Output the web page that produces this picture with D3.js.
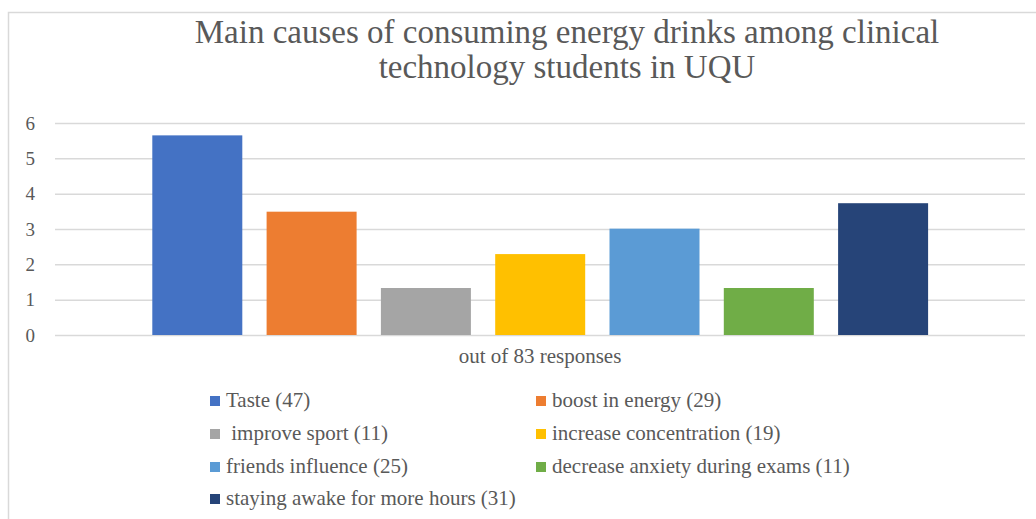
<!DOCTYPE html>
<html>
<head>
<meta charset="utf-8">
<script src="https://cdn.jsdelivr.net/npm/d3@7/dist/d3.min.js"></script>
<style>
  html, body { margin: 0; padding: 0; background: #fff; }
  svg { display: block; }
  text { font-family: "Liberation Serif", "Times New Roman", serif; fill: #595959; }
</style>
</head>
<body>
<svg id="chart" width="1036" height="519"></svg>
<script>
const categories = [
  "Taste (47)",
  "boost in energy (29)",
  " improve sport (11)",
  "increase concentration (19)",
  "friends influence (25)",
  "decrease anxiety during exams (11)",
  "staying awake for more hours (31)"
];
const values = [5.65, 3.49, 1.33, 2.29, 3.01, 1.33, 3.73];
const colors = ["#4472C4", "#ED7D31", "#A5A5A5", "#FFC000", "#5B9BD5", "#70AD47", "#264478"];
const yTicks = [0, 1, 2, 3, 4, 5, 6];
const titleLines = ["Main causes of consuming energy drinks among clinical", "technology students in UQU"];
const axisTitle = "out of 83 responses";

const svg = d3.select("#chart");

// chart frame
svg.append("rect").attr("x", 8.5).attr("y", 12.5).attr("width", 1100).attr("height", 600)
  .attr("fill", "#fff").attr("stroke", "#d9d9d9").attr("stroke-width", 1.5);

// title
svg.append("g").selectAll("text").data(titleLines).join("text")
  .attr("x", 567).attr("y", (d, i) => 43 + i * 35)
  .attr("text-anchor", "middle").attr("font-size", 33).text(d => d);

const plot = { left: 55, right: 1025, top: 123, bottom: 335 };
const y = d3.scaleLinear().domain([0, 6]).range([plot.bottom, plot.top]);
const step = 114.3, barW = 90;
const x = d3.scaleBand().domain(categories)
  .range([152.3, 152.3 + step * 7 - (step - barW)])
  .paddingInner((step - barW) / step).paddingOuter(0);

// gridlines + tick labels
const yAxis = d3.axisLeft(y).tickValues(yTicks).tickSize(-(plot.right - plot.left)).tickPadding(20).tickFormat(d3.format("d"));
const gy = svg.append("g").attr("transform", `translate(${plot.left},0)`).call(yAxis);
gy.select(".domain").remove();
gy.selectAll(".tick line").attr("stroke", "#d9d9d9").attr("stroke-width", 1.5);
gy.selectAll(".tick text").attr("font-size", 19).attr("fill", "#595959");

// bars
svg.append("g").selectAll("rect").data(values).join("rect")
  .attr("x", (d, i) => x(categories[i]))
  .attr("width", x.bandwidth())
  .attr("y", d => y(d))
  .attr("height", d => y(0) - y(d))
  .attr("fill", (d, i) => colors[i]);

// axis title
svg.append("text").attr("x", 540).attr("y", 363).attr("text-anchor", "middle")
  .attr("font-size", 21).text(axisTitle);

// legend
const legendCols = [210, 536];
const legendRows = [401, 434, 467, 499];
const lg = svg.append("g").selectAll("g").data(categories).join("g")
  .attr("transform", (d, i) => `translate(${legendCols[i % 2]},${legendRows[Math.floor(i / 2)]})`);
lg.append("rect").attr("x", 0).attr("y", -5).attr("width", 10).attr("height", 10)
  .attr("fill", (d, i) => colors[i]);
lg.append("text").attr("x", 16).attr("y", 6).attr("font-size", 21)
  .attr("xml:space", "preserve").style("white-space", "pre").text(d => d);
</script>
</body>
</html>
